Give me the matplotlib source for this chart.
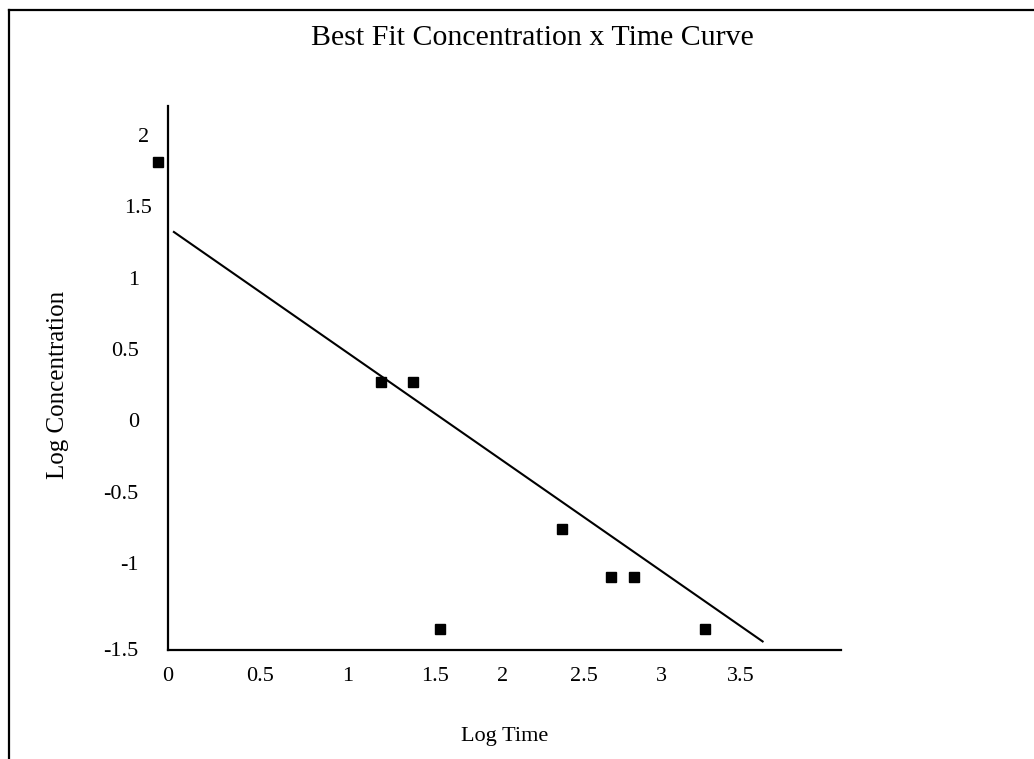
import matplotlib.pyplot as plt
from matplotlib.lines import Line2D
from matplotlib.transforms import ScaledTranslation

# Data (axis units)
log_time = [-0.06, 1.30, 1.50, 1.66, 2.41, 2.71, 2.85, 3.28]
log_conc = [1.81, 0.27, 0.27, -1.46, -0.76, -1.10, -1.10, -1.46]

# best fit line end points
fit_x = [0.036, 3.634]
fit_y = [1.32, -1.55]

# tick labels and where they sit
xtick_pos = [0, 0.563, 1.096, 1.635, 2.047, 2.544, 3.016, 3.5]
xtick_lab = ["0", "0.5", "1", "1.5", "2", "2.5", "3", "3.5"]
ytick_pos = [2, 1.5, 1, 0.5, 0, -0.5, -1, -1.6]
ytick_lab = ["2", "1.5", "1", "0.5", "0", "-0.5", "-1", "-1.5"]

plt.rcParams['font.family'] = ['Liberation Serif', 'DejaVu Serif']

W, H = 1034, 759
fig = plt.figure(figsize=(W / 100, H / 100), dpi=100)
ax = fig.add_axes([168 / W, 1 - 650 / H, (841 - 168) / W, (650 - 106) / H])

ax.plot(fit_x, fit_y, color='black', linewidth=1.5)
ax.plot(log_time, log_conc, linestyle='none', marker='s', markersize=6.5,
        color='black', clip_on=False)

ax.set_xlim(0.036, 4.113)
ax.set_ylim(-1.61, 2.203)
ax.set_xticks(xtick_pos)
ax.set_xticklabels(xtick_lab)
ax.set_yticks(ytick_pos)
ax.set_yticklabels(ytick_lab)
ax.tick_params(axis='both', length=0, labelsize=16)
ax.tick_params(axis='x', pad=12)
ax.tick_params(axis='y', pad=21)

# the top two y labels sit a little further right in the original
for lbl, dx in zip(ax.get_yticklabels()[:2], [10, 13]):
    lbl.set_transform(lbl.get_transform() + ScaledTranslation(dx / 100, 0, fig.dpi_scale_trans))

for side in ['top', 'right']:
    ax.spines[side].set_visible(False)
for side in ['left', 'bottom']:
    ax.spines[side].set_linewidth(1.6)

fig.text(532 / W, 1 - 38 / H, "Best Fit Concentration x Time Curve",
         ha='center', va='center', fontsize=21.5)
fig.text(505 / W, 1 - 737 / H, "Log Time", ha='center', va='center', fontsize=16)
fig.text(58 / W, 1 - 385 / H, "Log Concentration", ha='center', va='center',
         rotation=90, fontsize=18)

# frame around the picture (left and top edges)
fig.add_artist(Line2D([9 / W, 9 / W], [0, 1 - 10 / H], color='black', linewidth=1.6))
fig.add_artist(Line2D([9 / W, 1], [1 - 10 / H, 1 - 10 / H], color='black', linewidth=1.6))

fig.savefig("out.png", dpi=100)
